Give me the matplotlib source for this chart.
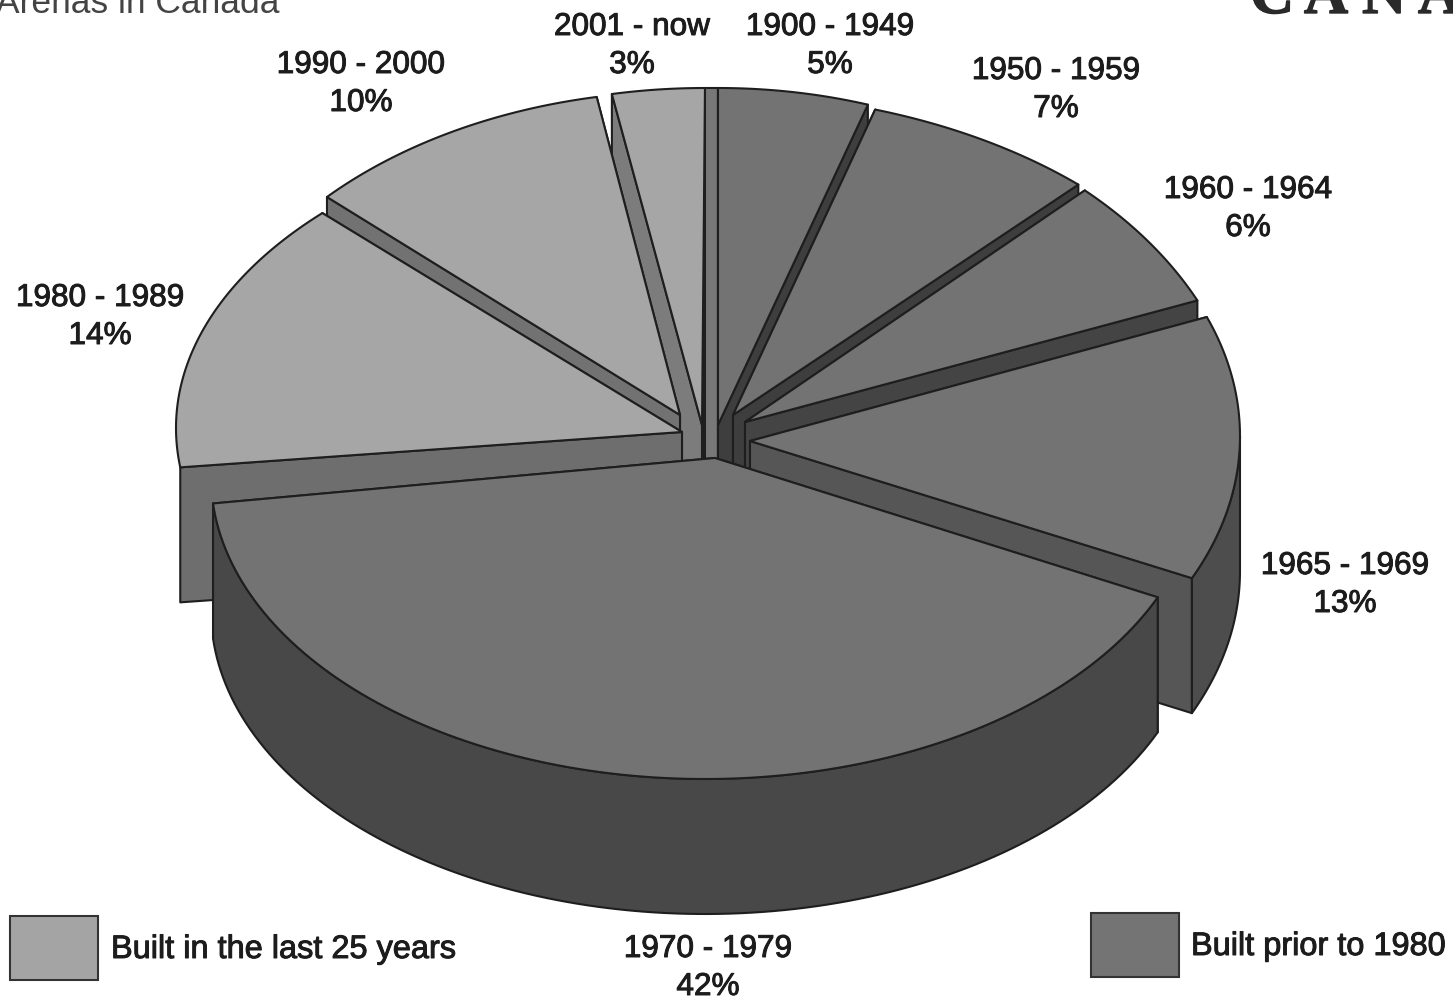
import numpy as np
import matplotlib
matplotlib.use("Agg")
import matplotlib.pyplot as plt
from matplotlib.patches import Polygon, Rectangle
import matplotlib.patheffects as pe

# data, clockwise from 12 o'clock
periods = ["1900 - 1949", "1950 - 1959", "1960 - 1964", "1965 - 1969",
           "1970 - 1979", "1980 - 1989", "1990 - 2000", "2001 - now"]
shares = [5, 7, 6, 13, 42, 14, 10, 3]
legend_labels = ["Built in the last 25 years", "Built prior to 1980"]

# hand fitted view of each exploded slice, in picture pixels
arc_cx = [718, 708, 735, 750, 705, 716, 690, 705]
arc_cy = [428, 431, 455, 436, 476, 428, 427, 428]
arc_a = [485, 541, 511, 490, 494, 540, 498, 497]
arc_b = [340, 338, 363, 329, 303, 314, 336, 340]
twist = [0, 0, 0, 4, 2, 0, 0, 0]
apex_x = [718, 733, 745, 750, 715, 682, 680, 702]
apex_y = [425, 415, 422, 441, 458, 432, 415, 425]
draw_order = [7, 0, 6, 1, 2, 5, 3, 4]
DEPTH = 135

label_x = [830, 1056, 1248, 1345, 708, 100, 361, 632]
label_y = [27, 71, 190, 566, 949, 298, 65, 27]

DARK_TOP = "#737373"
LIGHT_TOP = "#a6a6a6"
top_colors = [DARK_TOP, DARK_TOP, DARK_TOP, DARK_TOP, DARK_TOP, LIGHT_TOP, LIGHT_TOP, LIGHT_TOP]
outer_colors = ["#555555", "#555555", "#555555", "#4d4d4d", "#484848", "#707070", "#747474", "#7c7c7c"]
side_colors = ["#3e3e3e", "#3e3e3e", "#444444", "#565656", "#484848", "#6e6e6e", "#727272", "#7c7c7c"]
EDGE = "#1e1e1e"
TEXT = "#1c1c1c"

plt.rcParams["font.family"] = ["Liberation Sans", "DejaVu Sans"]


def add_poly(ax, pts, color, zorder):
    ax.add_patch(Polygon(pts, closed=True, facecolor=color, edgecolor=EDGE,
                         linewidth=1.5, joinstyle="round", zorder=zorder))


def draw_slice(ax, i, start, sweep, z):
    angles = np.linspace(start, start + sweep, 120) + twist[i]
    theta = np.radians(angles)
    arc = np.column_stack([arc_cx[i] + arc_a[i] * np.sin(theta),
                           arc_cy[i] - arc_b[i] * np.cos(theta)])
    apex = np.array([apex_x[i], apex_y[i]])
    drop = np.array([0, DEPTH])

    # the cut face lying further back goes first
    ends = sorted([arc[0], arc[-1]], key=lambda p: p[1])
    for k, end in enumerate(ends):
        add_poly(ax, [apex, end, end + drop, apex + drop], side_colors[i], z + k * 0.01)
    # only the part of the rim that faces the viewer
    front = arc[(angles >= 90) & (angles <= 270)]
    if len(front) > 30:
        add_poly(ax, np.vstack([front, (front + drop)[::-1]]), outer_colors[i], z + 0.1)
    add_poly(ax, np.vstack([apex, arc]), top_colors[i], z + 0.2)


def main():
    fig = plt.figure(figsize=(14.53, 9.99), dpi=100)
    ax = fig.add_axes([0, 0, 1, 1])
    ax.set_xlim(0, 1453)
    ax.set_ylim(999, 0)
    ax.axis("off")

    starts = np.cumsum([0] + shares[:-1]) * 3.6
    for z, i in enumerate(draw_order):
        draw_slice(ax, i, starts[i], shares[i] * 3.6, z + 1)
        # narrow band seen beside the first slice
        if i == 0:
            add_poly(ax, [[705, 88], [718, 88], [718, 462], [705, 462]], "#787878", z + 0.9)

    stroke = [pe.withStroke(linewidth=0.7, foreground=TEXT)]
    for i, name in enumerate(periods):
        ax.text(label_x[i], label_y[i], name, ha="center", va="center", fontsize=22.7,
                color=TEXT, path_effects=stroke, zorder=20)
        ax.text(label_x[i], label_y[i] + 38, f"{shares[i]}%", ha="center", va="center",
                fontsize=22.7, color=TEXT, path_effects=stroke, zorder=20)

    # legend boxes
    ax.add_patch(Rectangle((10, 916), 88, 64, facecolor="#a4a4a4", edgecolor="#333333", linewidth=1.5))
    ax.add_patch(Rectangle((1091, 913), 88, 64, facecolor="#747474", edgecolor="#333333", linewidth=1.5))
    ax.text(111, 950, legend_labels[0], ha="left", va="center", fontsize=23.4, color=TEXT, path_effects=stroke)
    ax.text(1191, 947, legend_labels[1], ha="left", va="center", fontsize=23.4, color=TEXT, path_effects=stroke)

    # cropped header text
    ax.text(-4, 13, "Arenas in Canada", ha="left", va="baseline", fontsize=25.5, color="#444444")
    header_stroke = [pe.withStroke(linewidth=1, foreground="#2a2a2a")]
    for ch, x in zip("CANA", [1250, 1304, 1362, 1418]):
        ax.text(x, 13, ch, ha="left", va="baseline", fontsize=44, fontweight="bold",
                family="Liberation Serif", color="#2a2a2a", path_effects=header_stroke)

    fig.savefig("out.png", dpi=100, facecolor="white")
    plt.close(fig)


if __name__ == "__main__":
    main()
